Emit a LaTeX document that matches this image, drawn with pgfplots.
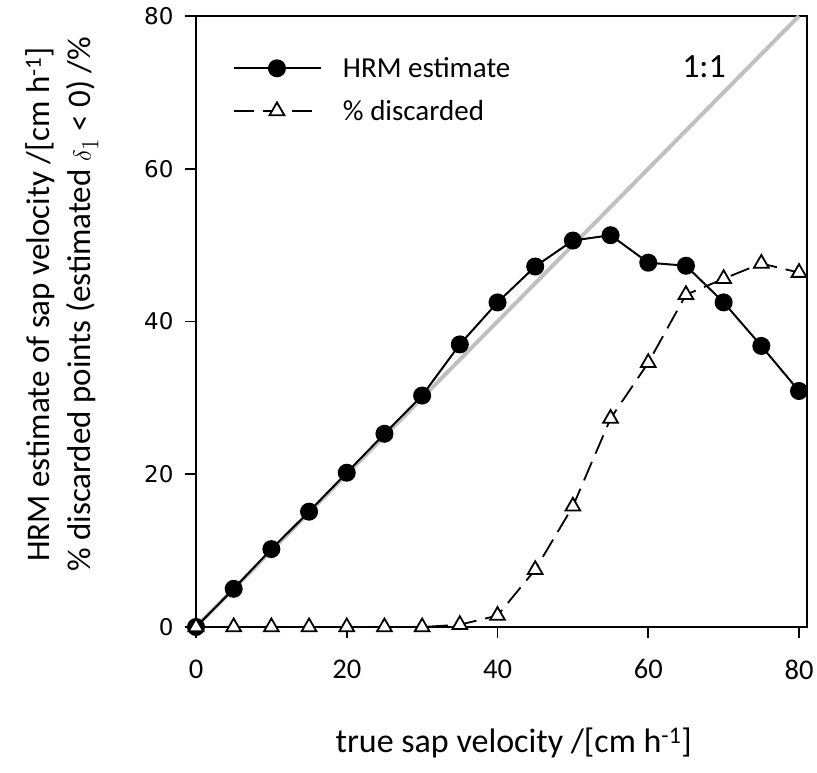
\documentclass[border=0pt]{standalone}
\usepackage{pgfplots}
\pgfplotsset{compat=1.18}
\usepackage{fontspec}
\setmainfont{Carlito}
\newfontfamily\ytickfont{DejaVu Sans}

\definecolor{oneone}{RGB}{192,192,192}

\begin{document}
\begin{tikzpicture}
\begin{axis}[
  name=ax,
  width=611pt, height=611pt, scale only axis,
  xmin=0, xmax=81.06, ymin=0, ymax=80,
  xtick={0,20,40,60,80}, ytick={0,20,40,60,80},
  axis line style={line width=1.8pt},
  tick style={line width=1.8pt, black},
  major tick length=11pt,
  tick align=outside, tick pos=left,
  /pgf/number format/assume math mode=true,
  xticklabel style={font=\fontsize{28.5}{34}\selectfont, yshift=-18pt},
  yticklabel style={font=\ytickfont\fontsize{23}{28}\selectfont, xshift=-8pt},
  xlabel={true sap velocity /[cm h\textsuperscript{-1}]},
  ylabel={HRM estimate of sap velocity /[cm h\textsuperscript{-1}]\\
          \% discarded points (estimated $\delta_1$ < 0) /\%},
  xlabel style={font=\fontsize{34}{41}\selectfont,
    at={(axis description cs:0.52,-0.19)}, anchor=center},
  ylabel style={font=\fontsize{33}{41}\selectfont, align=center,
    at={(axis description cs:-0.219,0.528)}, anchor=center},
  legend style={draw=none, fill=none, inner sep=0pt, outer sep=0pt,
    at={(axis description cs:0.0605,0.932)}, anchor=north west,
    font=\fontsize{29}{35}\selectfont,
    row sep=21pt, column sep=21pt,
    nodes={inner sep=0pt}},
  legend cell align=left,
  legend image code/.code={\draw[mark repeat=2,mark phase=2,#1]
    plot coordinates {(0pt,0pt) (43pt,0pt) (87pt,0pt)};},
  clip=false,
]
% 1:1 line
\addplot[oneone, line width=4pt, forget plot] coordinates {(0,0) (80,80)};

\addplot[black, line width=2pt, mark=*, mark size=8pt,
  mark options={solid, fill=black}] coordinates {
  (0,0) (5,5.0) (10,10.2) (15,15.1) (20,20.2) (25,25.3) (30,30.3)
  (35,37.0) (40,42.5) (45,47.2) (50,50.6) (55,51.3) (60,47.7)
  (65,47.3) (70,42.5) (75,36.8) (80,30.9)
};
\addlegendentry{HRM estimate}

\addplot[black, line width=1.8pt, dash pattern=on 20pt off 9pt,
  mark=triangle*, mark size=8.5pt,
  mark options={solid, fill=white, line width=1.8pt}] coordinates {
  (0,0) (5,0) (10,0) (15,0) (20,0) (25,0) (30,0)
  (35,0.3) (40,1.5) (45,7.5) (50,15.8) (55,27.3) (60,34.6)
  (65,43.5) (70,45.6) (75,47.6) (80,46.4)
};
\addlegendentry{\% discarded}

\node[font=\fontsize{34}{40}\selectfont] at (axis cs:67.4,73.4) {1:1};
\end{axis}
\pgfresetboundingbox
\path[use as bounding box] (ax.south west) ++(-196pt,-145pt) rectangle ++(817pt,772pt);
\end{tikzpicture}
\end{document}
